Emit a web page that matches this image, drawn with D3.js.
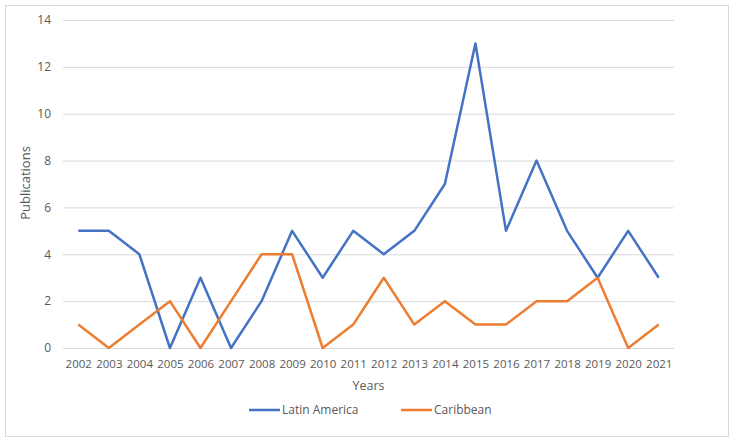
<!DOCTYPE html>
<html>
<head>
<meta charset="utf-8">
<script src="https://cdn.jsdelivr.net/npm/d3@7"></script>
<style>
body { margin: 0; background: #fff; }
text { font-family: "Open Sans", "Liberation Sans", sans-serif; fill: #595959; }
</style>
</head>
<body>
<script>
var years = ['2002', '2003', '2004', '2005', '2006', '2007', '2008', '2009', '2010', '2011',
	'2012', '2013', '2014', '2015', '2016', '2017', '2018', '2019', '2020', '2021']
var latinAmerica = [5, 5, 4, 0, 3, 0, 2, 5, 3, 5, 4, 5, 7, 13, 5, 8, 5, 3, 5, 3]
var caribbean = [1, 0, 1, 2, 0, 2, 4, 4, 0, 1, 3, 1, 2, 1, 1, 2, 2, 3, 0, 1]
var yTicks = [0, 2, 4, 6, 8, 10, 12, 14]
var seriesNames = ['Latin America', 'Caribbean']
var colors = ['#4472C4', '#ED7D31']

var width = 733
var height = 443
var plotLeft = 63, plotRight = 674, plotTop = 20, plotBottom = 348

var svg = d3.select('body').append('svg')
    .attr('width', width)
    .attr('height', height)

svg.append('rect')
    .attr('x', 5.5).attr('y', 5.5)
    .attr('width', 723).attr('height', 431)
    .style('fill', '#fff')
    .style('stroke', '#d9d9d9')

var x = d3.scalePoint()
    .domain(years)
    .range([plotLeft, plotRight])
    .padding(0.5)

var y = d3.scaleLinear()
    .domain([0, 14])
    .range([plotBottom, plotTop])

// gridlines
var yAxis = d3.axisLeft(y).tickValues(yTicks).tickSize(-(plotRight - plotLeft)).tickPadding(12)
var gy = svg.append('g')
    .attr('transform', 'translate(' + plotLeft + ',0)')
    .call(yAxis)
gy.select('.domain').remove()
gy.selectAll('line').style('stroke', '#d9d9d9')
gy.selectAll('text').style('font-size', '12px').style('fill', '#595959').attr('font-family', '"Open Sans", sans-serif')

var xAxis = d3.axisBottom(x).tickSize(0).tickPadding(12)
var gx = svg.append('g')
    .attr('transform', 'translate(0,' + plotBottom + ')')
    .call(xAxis)
gx.select('.domain').remove()
gx.selectAll('text').style('font-size', '11.5px').style('fill', '#595959').attr('font-family', '"Open Sans", sans-serif')

svg.append('line')
    .attr('x1', plotLeft).attr('x2', plotRight)
    .attr('y1', plotBottom + 0.5).attr('y2', plotBottom + 0.5)
    .style('stroke', '#d9d9d9')

var line = d3.line()
    .x(function (d, i) { return x(years[i]) })
    .y(function (d) { return y(d) })

;[latinAmerica, caribbean].forEach(function (s, i) {
	svg.append('path')
	    .datum(s)
	    .attr('d', line)
	    .style('fill', 'none')
	    .style('stroke', colors[i])
	    .style('stroke-width', 2.5)
	    .style('stroke-linejoin', 'round')
})

svg.append('text')
    .attr('x', (plotLeft + plotRight) / 2)
    .attr('y', 390)
    .attr('text-anchor', 'middle')
    .style('font-size', '12.5px')
    .text('Years')

svg.append('text')
    .attr('transform', 'translate(30,' + 183 + ') rotate(-90)')
    .attr('text-anchor', 'middle')
    .style('font-size', '13px')
    .text('Publications')

var legendX = [249, 401]
seriesNames.forEach(function (name, i) {
	var g = svg.append('g').attr('transform', 'translate(' + legendX[i] + ',410)')
	g.append('line')
	    .attr('x1', 0).attr('x2', 31)
	    .style('stroke', colors[i])
	    .style('stroke-width', 2.5)
	g.append('text')
	    .attr('x', 33)
	    .attr('y', 4)
	    .style('font-size', '12px')
	    .text(name)
})
</script>
</body>
</html>
